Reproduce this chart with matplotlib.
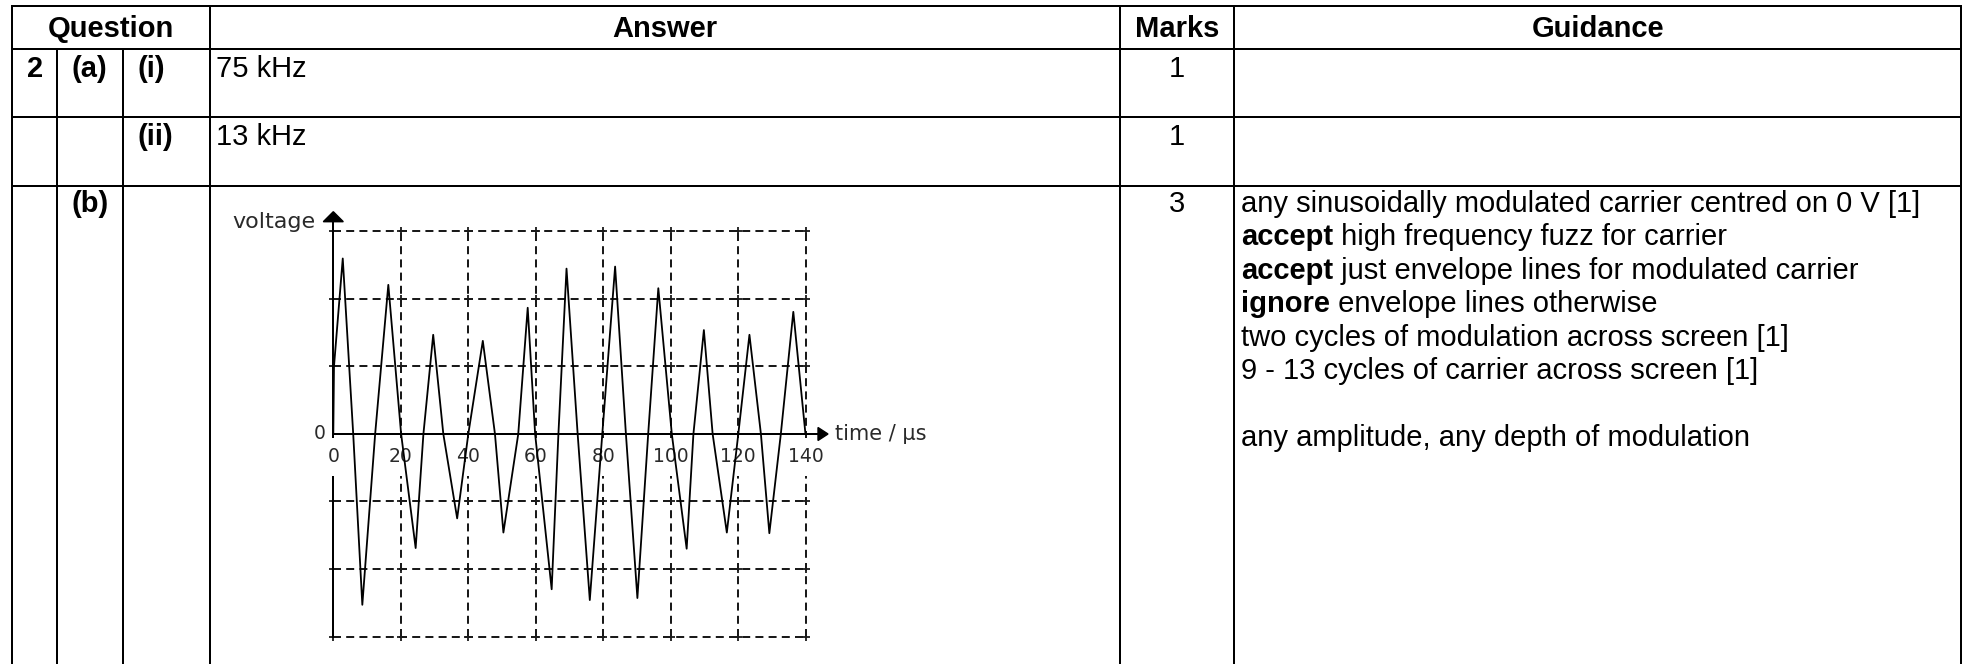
import matplotlib
matplotlib.use("Agg")
import matplotlib.pyplot as plt
from matplotlib.patches import Polygon

# ---------------- data ----------------
header_labels = ["Question", "Answer", "Marks", "Guidance"]
question_number = "2"
part_labels = ["(a)", "", "(b)"]
subpart_labels = ["(i)", "(ii)", ""]
answers = ["75 kHz", "13 kHz", ""]
marks = ["1", "1", "3"]
guidance_lines = [
    [("any sinusoidally modulated carrier centred on 0 V [1]", False)],
    [("accept", True), (" high frequency fuzz for carrier", False)],
    [("accept", True), (" just envelope lines for modulated carrier", False)],
    [("ignore", True), (" envelope lines otherwise", False)],
    [("two cycles of modulation across screen [1]", False)],
    [("9 - 13 cycles of carrier across screen [1]", False)],
    [],
    [("any amplitude, any depth of modulation", False)],
]

# waveform: peaks, troughs and zero crossings (time in µs)
time_us = [0, 0.2, 2.8, 5.9, 8.6, 12.4, 16.3, 20.1, 24.4, 26.7, 29.6, 32.6,
           36.7, 40.0, 44.3, 47.9, 50.4, 54.8, 57.6, 59.8, 64.7, 66.7, 69.1,
           72.4, 76.0, 79.7, 83.5, 86.7, 90.1, 93.3, 96.3, 100.3, 104.7,
           106.7, 109.8, 112.4, 116.6, 120.0, 123.3, 126.7, 129.2, 132.6,
           136.3, 139.9]
voltage = [0, 1.0, 2.60, 0, -2.53, 0, 2.21, 0, -1.69, 0, 1.47, 0,
           -1.25, 0, 1.38, 0, -1.46, 0, 1.87, 0, -2.30, 0, 2.45,
           0, -2.46, 0, 2.48, 0, -2.43, 0, 2.16, 0, -1.70,
           0, 1.54, 0, -1.46, 0, 1.47, 0, -1.47, 0,
           1.81, 0]
time_ticks = [0, 20, 40, 60, 80, 100, 120, 140]
voltage_grid = [-3, -2, -1, 1, 2, 3]
x_label = "time / \u00b5s"
y_label = "voltage"
origin_label = "0"

# ---------------- layout ----------------
W, H = 1966, 664
FONT = "Liberation Sans"
FS = 21
LW = 1.44

fig = plt.figure(figsize=(W / 100, H / 100), dpi=100)
fig.patch.set_facecolor("white")
ax = fig.add_axes([0, 0, 1, 1])
ax.set_xlim(0, W)
ax.set_ylim(H, 0)
ax.axis("off")

col_x = [12.3, 56.7, 122.7, 210, 1120, 1234.3, 1961]
row_y = [6, 49, 117.3, 186]

line_kw = dict(color="black", lw=LW, solid_capstyle="projecting", zorder=2)
for y in row_y:
    ax.plot([col_x[0], col_x[-1]], [y, y], **line_kw)
for i, x in enumerate(col_x):
    top = row_y[1] if i in (1, 2) else row_y[0]
    ax.plot([x, x], [top, H + 5], **line_kw)

# header
head_centres = [(col_x[0] + col_x[3]) / 2, (col_x[3] + col_x[4]) / 2,
                (col_x[4] + col_x[5]) / 2, (col_x[5] + col_x[6]) / 2]
for lab, cx in zip(header_labels, head_centres):
    ax.text(cx, 37, lab, ha="center", va="baseline", fontsize=FS,
            fontweight="bold", family=FONT)

row_base = [76.7, 145.0, 212.0]
ax.text(col_x[0] + 14.4, row_base[0], question_number, ha="left",
        va="baseline", fontsize=FS, fontweight="bold", family=FONT)
for i in range(3):
    if part_labels[i]:
        ax.text(col_x[1] + 15, row_base[i], part_labels[i], ha="left",
                va="baseline", fontsize=FS, fontweight="bold", family=FONT)
    if subpart_labels[i]:
        ax.text(col_x[2] + 15, row_base[i], subpart_labels[i], ha="left",
                va="baseline", fontsize=FS, fontweight="bold", family=FONT)
    if answers[i]:
        ax.text(col_x[3] + 6, row_base[i], answers[i], ha="left",
                va="baseline", fontsize=FS, family=FONT)
    ax.text((col_x[4] + col_x[5]) / 2, row_base[i], marks[i], ha="center",
            va="baseline", fontsize=FS, family=FONT)

renderer = fig.canvas.get_renderer()
for i, segs in enumerate(guidance_lines):
    x = col_x[5] + 6.5
    y = row_base[2] + 33.4 * i
    for s, bold in segs:
        t = ax.text(x, y, s, ha="left", va="baseline", fontsize=FS,
                    fontweight="bold" if bold else "normal", family=FONT)
        x += t.get_window_extent(renderer).width

# ---------------- chart ----------------
X0, SX = 333.3, 3.375   # pixel of t=0, pixels per µs
Y0, SY = 434.0, 67.5    # pixel of v=0, pixels per grid unit
L, R, T, B = 215, 900, 195, 650
cax = fig.add_axes([L / W, 1 - B / H, (R - L) / W, (B - T) / H])
cax.set_xlim((L - X0) / SX, (R - X0) / SX)
cax.set_ylim((Y0 - B) / SY, (Y0 - T) / SY)
cax.axis("off")
cax.patch.set_visible(False)

tmax = time_ticks[-1]
vmin, vmax = voltage_grid[0], voltage_grid[-1]
dash = (0, (4, 2.6))
gcol = "#1a1a1a"
for tt in time_ticks[1:]:
    cax.plot([tt, tt], [vmin, vmax], color=gcol, lw=LW, linestyle=dash, zorder=1)
for vv in voltage_grid:
    cax.plot([0, tmax], [vv, vv], color=gcol, lw=LW, linestyle=dash, zorder=1)
# little crosses at grid intersections
for tt in time_ticks[1:]:
    cax.plot([tt] * len(voltage_grid), voltage_grid, linestyle="none",
             marker="+", markersize=6, markeredgewidth=1.3, color=gcol, zorder=1)
for vv in voltage_grid:
    cax.plot([0], [vv], marker="+", markersize=6, markeredgewidth=1.3,
             color=gcol, zorder=1)

# y axis with arrow
y_tip = (Y0 - 211.7) / SY
y_base = (Y0 - 221.7) / SY
cax.plot([0, 0], [vmin, y_base], color="black", lw=LW, zorder=1)
cax.add_patch(Polygon([[-10 / SX, y_base], [10 / SX, y_base], [0, y_tip]],
                      closed=True, color="black", zorder=5))
# x axis with arrow
x_base = (818 - X0) / SX
x_tip = (828 - X0) / SX
cax.plot([0, x_base], [0, 0], color="black", lw=LW, zorder=5)
cax.add_patch(Polygon([[x_base, 6.5 / SY], [x_base, -6.5 / SY], [x_tip, 0]],
                      closed=True, color="black", zorder=5))

tick_col = "#2a2a2a"
lab_v = (Y0 - 456.7) / SY
for tt in time_ticks:
    cax.text(tt, lab_v, str(tt), ha="center", va="center", fontsize=13.5,
             family="DejaVu Sans", color=tick_col, zorder=3,
             bbox=dict(facecolor="white", edgecolor="none",
                       boxstyle="square,pad=0.5"))
cax.text((325.5 - X0) / SX, 0, origin_label, ha="right", va="center",
         fontsize=13.5, family="DejaVu Sans", color=tick_col, zorder=3)
cax.text((315 - X0) / SX, (Y0 - 222) / SY, y_label, ha="right", va="center",
         fontsize=16, family="DejaVu Sans", color=tick_col, zorder=3)
cax.text((835 - X0) / SX, 0, x_label, ha="left", va="center",
         fontsize=15, family="DejaVu Sans", color=tick_col, zorder=3)

cax.plot(time_us, voltage, color="black", lw=1.3, zorder=4,
         solid_joinstyle="round")

fig.savefig("out.png", dpi=100, facecolor="white")
